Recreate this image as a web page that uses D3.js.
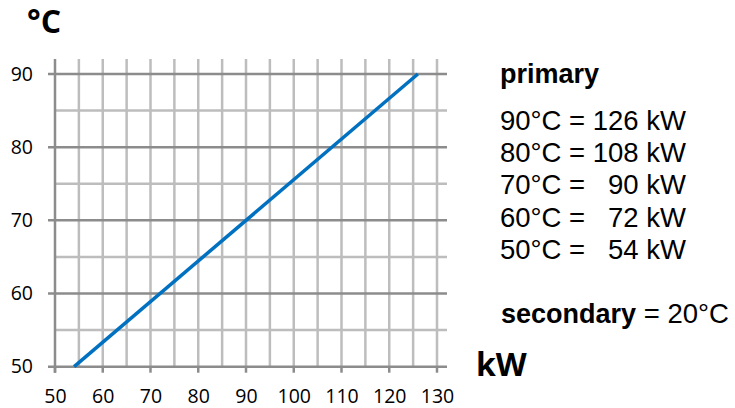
<!DOCTYPE html>
<html><head><meta charset="utf-8">
<script src="https://cdn.jsdelivr.net/npm/d3@7"></script>
<style>body{margin:0;background:#fff;} svg{display:block;}</style>
</head><body>
<script>
// Data
const lineKW = [54, 126];
const lineTemp = [50, 90];
const xTicks = [50, 60, 70, 80, 90, 100, 110, 120, 130];
const yTicks = [50, 60, 70, 80, 90];
const xGrid = [55, 60, 65, 70, 75, 80, 85, 90, 95, 100, 105, 110, 115, 120, 125, 130];
const yGridMinor = [55, 65, 75, 85];
const legendTitle = "primary";
const legendLines = ["90°C = 126 kW", "80°C = 108 kW", "70°C =   90 kW", "60°C =   72 kW", "50°C =   54 kW"];
const secondaryLabel = "secondary";
const secondaryValue = " = 20°C";

const W = 735, H = 408;
const svg = d3.select("body").append("svg").attr("width", W).attr("height", H);

const x = d3.scaleLinear().domain([50, 130]).range([55, 437]);
const y = d3.scaleLinear().domain([50, 90]).range([366.7, 74]);
const plotRight = 447, plotTop = 59;

const light = "#bdbdbd", dark = "#8c8c8c";
const g = svg.append("g");

// vertical gridlines
g.selectAll(".vg").data(xGrid).enter().append("line")
  .attr("x1", d => x(d)).attr("x2", d => x(d))
  .attr("y1", plotTop).attr("y2", y(50))
  .attr("stroke", light).attr("stroke-width", 2.5);
// minor horizontal
g.selectAll(".hgm").data(yGridMinor).enter().append("line")
  .attr("x1", x(50)).attr("x2", plotRight)
  .attr("y1", d => y(d)).attr("y2", d => y(d))
  .attr("stroke", light).attr("stroke-width", 2.5);
// major horizontal
g.selectAll(".hg").data(yTicks).enter().append("line")
  .attr("x1", x(50) - 7).attr("x2", plotRight)
  .attr("y1", d => y(d)).attr("y2", d => y(d))
  .attr("stroke", dark).attr("stroke-width", 2.5);
// left axis
g.append("line").attr("x1", x(50)).attr("x2", x(50)).attr("y1", plotTop).attr("y2", y(50) + 6)
  .attr("stroke", dark).attr("stroke-width", 2.5);
// bottom ticks
g.selectAll(".xt").data(xTicks).enter().append("line")
  .attr("x1", d => x(d)).attr("x2", d => x(d))
  .attr("y1", y(50)).attr("y2", y(50) + 6)
  .attr("stroke", dark).attr("stroke-width", 2.5);

// axes labels via d3 axes (text only)
const tickFont = "'Open Sans', sans-serif";
const xAxis = svg.append("g").attr("transform", `translate(0,${y(50)})`)
  .call(d3.axisBottom(x).tickValues(xTicks).tickSize(0).tickPadding(22));
const yAxis = svg.append("g").attr("transform", `translate(${x(50)},0)`)
  .call(d3.axisLeft(y).tickValues(yTicks).tickSize(0).tickPadding(22));
[xAxis, yAxis].forEach(a => {
  a.select(".domain").remove();
  a.selectAll("text").attr("font-family", tickFont).attr("font-size", 19.5).attr("fill", "#000");
});

// data line
const line = d3.line().x(d => x(d[0])).y(d => y(d[1]));
svg.append("path").datum(lineKW.map((k, i) => [k, lineTemp[i]]))
  .attr("d", line).attr("fill", "none").attr("stroke", "#0070C0").attr("stroke-width", 3.5);

// axis titles
svg.append("text").attr("x", 27).attr("y", 33).text("°C")
  .attr("font-family", tickFont).attr("font-weight", "bold").attr("font-size", 32);
svg.append("text").attr("x", 476).attr("y", 376).text("kW")
  .attr("font-family", tickFont).attr("font-weight", "bold").attr("font-size", 32);

// legend
const lf = "'Liberation Sans', Arial, sans-serif";
svg.append("text").attr("x", 500).attr("y", 83).text(legendTitle)
  .attr("font-family", lf).attr("font-weight", "bold").attr("font-size", 27);
svg.selectAll(".leg").data(legendLines).enter().append("text")
  .attr("x", 500).attr("y", (d, i) => 130 + i * 32.2)
  .attr("font-family", lf).attr("font-size", 27.5)
  .style("white-space", "pre").text(d => d);
const sec = svg.append("text").attr("x", 501).attr("y", 323)
  .attr("font-family", lf).attr("font-size", 27.5).style("white-space", "pre");
sec.append("tspan").attr("font-weight", "bold").attr("font-size", 27).text(secondaryLabel);
sec.append("tspan").text(secondaryValue);
</script>
</body></html>
